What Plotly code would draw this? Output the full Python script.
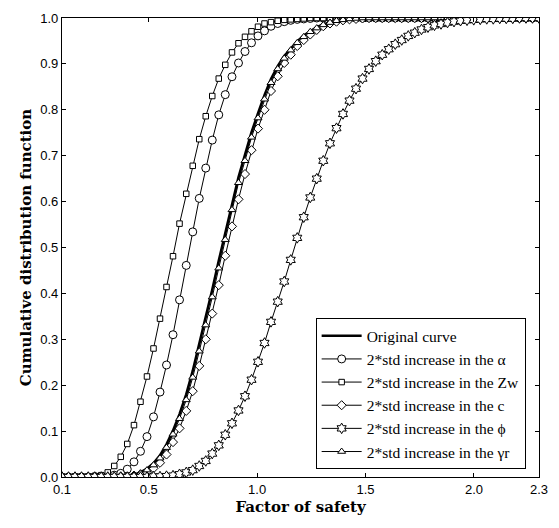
import plotly.graph_objects as go

# Factor of safety grid (x)
fs = [0.100, 0.130, 0.160, 0.190, 0.221, 0.251, 0.281, 0.311, 0.341, 0.371,
      0.401, 0.432, 0.462, 0.492, 0.522, 0.552, 0.582, 0.612, 0.642, 0.673,
      0.703, 0.733, 0.763, 0.793, 0.823, 0.853, 0.884, 0.914, 0.944, 0.974,
      1.004, 1.034, 1.064, 1.095, 1.125, 1.155, 1.185, 1.215, 1.245, 1.275,
      1.305, 1.336, 1.366, 1.396, 1.426, 1.456, 1.486, 1.516, 1.547, 1.577,
      1.607, 1.637, 1.667, 1.697, 1.727, 1.758, 1.788, 1.818, 1.848, 1.878,
      1.908, 1.938, 1.968, 1.999, 2.029, 2.059, 2.089, 2.119, 2.149, 2.179,
      2.210, 2.240, 2.270, 2.300]

cdf_original = [0, 0, 0, 0, 0, 0, 0, 0, 0, 0.001,
                0.002, 0.005, 0.010, 0.018, 0.030, 0.047, 0.071, 0.101, 0.137, 0.180,
                0.231, 0.288, 0.346, 0.408, 0.471, 0.533, 0.597, 0.653, 0.702, 0.751,
                0.792, 0.832, 0.867, 0.895, 0.917, 0.934, 0.949, 0.962, 0.972, 0.980,
                0.986, 0.991, 0.995, 0.997, 0.998, 0.999, 1, 1, 1, 1,
                1, 1, 1, 1, 1, 1, 1, 1, 1, 1,
                1, 1, 1, 1, 1, 1, 1, 1, 1, 1,
                1, 1, 1, 1]

cdf_alpha = [0, 0, 0, 0, 0, 0.001, 0.001, 0.002, 0.004, 0.008,
             0.017, 0.033, 0.056, 0.088, 0.131, 0.185, 0.244, 0.310, 0.386, 0.461,
             0.534, 0.607, 0.673, 0.734, 0.789, 0.833, 0.872, 0.902, 0.927, 0.946,
             0.961, 0.972, 0.982, 0.988, 0.992, 0.995, 0.997, 0.998, 0.999, 1,
             1, 1, 1, 1, 1, 1, 1, 1, 1, 1,
             1, 1, 1, 1, 1, 1, 1, 1, 1, 1,
             1, 1, 1, 1, 1, 1, 1, 1, 1, 1,
             1, 1, 1, 1]

cdf_zw = [0, 0, 0.0005, 0.001, 0.001, 0.002, 0.004, 0.010, 0.024, 0.044,
          0.072, 0.113, 0.164, 0.219, 0.280, 0.345, 0.414, 0.481, 0.552, 0.617,
          0.678, 0.736, 0.786, 0.830, 0.868, 0.898, 0.925, 0.945, 0.959, 0.971,
          0.981, 0.988, 0.991, 0.994, 0.996, 0.997, 0.998, 0.999, 1, 1,
          1, 1, 1, 1, 1, 1, 1, 1, 1, 1,
          1, 1, 1, 1, 1, 1, 1, 1, 1, 1,
          1, 1, 1, 1, 1, 1, 1, 1, 1, 1,
          1, 1, 1, 1]

cdf_c = [0, 0, 0, 0, 0, 0, 0, 0, 0, 0.001,
         0.001, 0.003, 0.006, 0.010, 0.019, 0.031, 0.049, 0.076, 0.106, 0.144,
         0.187, 0.242, 0.300, 0.356, 0.418, 0.482, 0.546, 0.605, 0.660, 0.712,
         0.759, 0.800, 0.841, 0.873, 0.902, 0.920, 0.939, 0.952, 0.964, 0.974,
         0.982, 0.988, 0.992, 0.995, 0.997, 0.998, 0.999, 1, 1, 1,
         1, 1, 1, 1, 1, 1, 1, 1, 1, 1,
         1, 1, 1, 1, 1, 1, 1, 1, 1, 1,
         1, 1, 1, 1]

cdf_phi = [0, 0, 0, 0, 0, 0, 0, 0, 0, 0,
           0, 0, 0, 0, 0.001, 0.001, 0.002, 0.003, 0.006, 0.010,
           0.015, 0.024, 0.035, 0.051, 0.069, 0.092, 0.117, 0.145, 0.176, 0.212,
           0.251, 0.292, 0.338, 0.382, 0.426, 0.473, 0.521, 0.566, 0.609, 0.650,
           0.689, 0.727, 0.760, 0.791, 0.820, 0.846, 0.868, 0.889, 0.906, 0.920,
           0.932, 0.943, 0.952, 0.961, 0.968, 0.975, 0.980, 0.984, 0.987, 0.990,
           0.992, 0.994, 0.995, 0.996, 0.997, 0.998, 0.998, 0.999, 0.999, 0.999,
           1, 1, 1, 1]

cdf_gamma = [0, 0, 0, 0, 0, 0, 0, 0, 0, 0.001,
             0.001, 0.004, 0.008, 0.015, 0.026, 0.041, 0.064, 0.093, 0.127, 0.168,
             0.217, 0.274, 0.331, 0.392, 0.455, 0.517, 0.582, 0.641, 0.689, 0.740,
             0.782, 0.823, 0.859, 0.889, 0.912, 0.930, 0.946, 0.959, 0.970, 0.978,
             0.985, 0.990, 0.994, 0.996, 0.998, 0.999, 1, 1, 1, 1,
             1, 1, 1, 1, 1, 1, 1, 1, 1, 1,
             1, 1, 1, 1, 1, 1, 1, 1, 1, 1,
             1, 1, 1, 1]

names = ["Original curve",
         "2*std increase in the α",
         "2*std increase in the Zw",
         "2*std increase in the c",
         "2*std increase in the ϕ",
         "2*std increase in the γr"]

fig = go.Figure()

fig.add_trace(go.Scatter(x=fs, y=cdf_original, mode="lines", name=names[0],
                         line=dict(color="black", width=2.6), legendrank=1))

def mk(y, name, sym, size, rank):
    return go.Scatter(x=fs, y=y, mode="lines+markers", name=name,
                      line=dict(color="black", width=1),
                      marker=dict(symbol=sym, size=size, color="white",
                                  line=dict(color="black", width=1)),
                      legendrank=rank)

fig.add_trace(mk(cdf_alpha, names[1], "circle", 8, 2))
fig.add_trace(mk(cdf_zw, names[2], "square", 5.5, 3))
fig.add_trace(mk(cdf_c, names[3], "diamond", 7, 4))
fig.add_trace(mk(cdf_gamma, names[5], "triangle-up", 7, 6))
fig.add_trace(mk(cdf_phi, names[4], "hexagram", 8, 5))

title_font = dict(family="DejaVu Serif", size=15, color="black")

axis_common = dict(showline=True, linecolor="black", linewidth=1.2, mirror="ticks",
                   ticks="inside", ticklen=4, tickcolor="black", showgrid=False,
                   zeroline=False,
                   tickfont=dict(family="Liberation Sans, Arial", size=13, color="black"))

fig.update_xaxes(range=[0.1, 2.3],
                 tickvals=[0.1, 0.5, 1.0, 1.5, 2.0, 2.3],
                 ticktext=["0.1", "0.5", "1.0", "1.5", "2.0", "2.3"],
                 title=dict(text="<b>Factor of safety</b>", font=title_font, standoff=5),
                 **axis_common)
fig.update_yaxes(range=[0, 1.0], dtick=0.1, tickformat=".1f",
                 title=dict(text="<b>Cumulative distribution function</b>", font=title_font,
                            standoff=4),
                 **axis_common)

fig.update_layout(
    width=559, height=528,
    margin=dict(l=62, r=16, t=11, b=51),
    paper_bgcolor="white", plot_bgcolor="white",
    showlegend=True,
    legend=dict(x=0.972, y=0.017, xanchor="right", yanchor="bottom",
                bordercolor="black", borderwidth=1, bgcolor="white",
                font=dict(family="Liberation Serif, DejaVu Serif", size=15.5, color="black"),
                tracegroupgap=0, itemwidth=40),
)

fig.write_html("out.html")
